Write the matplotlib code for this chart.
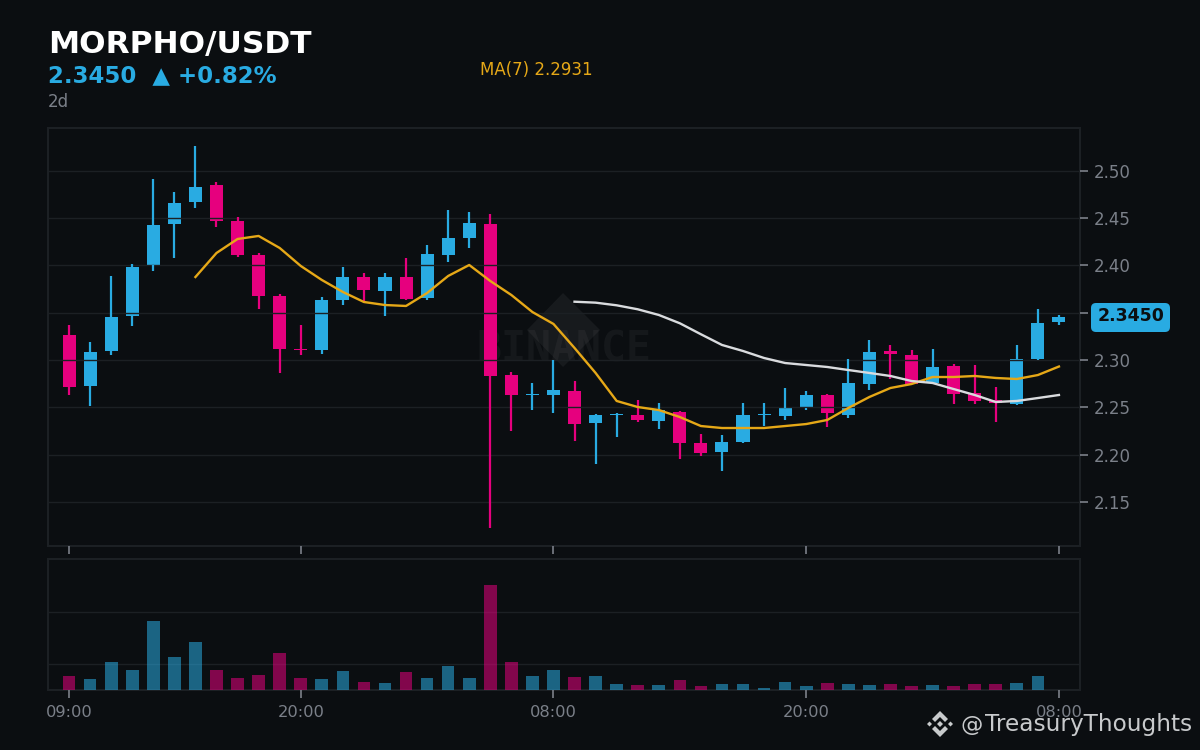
import matplotlib
matplotlib.use('Agg')
import matplotlib.pyplot as plt
from matplotlib.patches import Polygon, FancyBboxPatch

# hourly candles
opens = [2.3264, 2.2725, 2.3095, 2.3465, 2.4004, 2.4438, 2.467, 2.485, 2.447, 2.411, 2.3677, 2.3116,
         2.3106, 2.3634, 2.3877, 2.373, 2.3877, 2.3655, 2.411, 2.429, 2.4438, 2.2841, 2.263, 2.263,
         2.2672, 2.2334, 2.2415, 2.2419, 2.2355, 2.245, 2.2123, 2.2027, 2.2133, 2.2415, 2.2408, 2.2493,
         2.263, 2.2419, 2.2746, 2.3095, 2.3053, 2.2757, 2.2937, 2.2651, 2.2577, 2.2535, 2.3011, 2.3402]
closes = [2.2715, 2.3085, 2.3455, 2.398, 2.4427, 2.466, 2.4829, 2.447, 2.411, 2.3677, 2.3116, 2.3105,
          2.3634, 2.3877, 2.374, 2.3877, 2.3645, 2.412, 2.429, 2.4448, 2.283, 2.263, 2.264, 2.2683,
          2.2323, 2.2419, 2.2425, 2.2366, 2.2471, 2.2123, 2.2017, 2.2133, 2.2419, 2.2425, 2.2493, 2.263,
          2.244, 2.2757, 2.3085, 2.3063, 2.2746, 2.2926, 2.2641, 2.2567, 2.2545, 2.3011, 2.3391, 2.345]
highs = [2.337, 2.319, 2.389, 2.4015, 2.491, 2.4776, 2.5262, 2.488, 2.451, 2.413, 2.37, 2.337,
         2.3666, 2.398, 2.392, 2.392, 2.4078, 2.4216, 2.4586, 2.4564, 2.4543, 2.287, 2.2757, 2.3,
         2.2778, 2.243, 2.244, 2.2577, 2.2545, 2.246, 2.2218, 2.2207, 2.2545, 2.2545, 2.2704, 2.2672,
         2.264, 2.301, 2.3211, 2.3159, 2.3106, 2.3116, 2.2958, 2.2947, 2.2715, 2.3159, 2.3539, 2.3476]
lows = [2.263, 2.251, 2.305, 2.336, 2.394, 2.408, 2.4607, 2.4406, 2.409, 2.354, 2.286, 2.305,
        2.306, 2.358, 2.361, 2.3465, 2.3634, 2.3634, 2.4036, 2.4184, 2.1224, 2.225, 2.2471, 2.244,
        2.2144, 2.19, 2.2186, 2.2345, 2.227, 2.1953, 2.1985, 2.1827, 2.2123, 2.2302, 2.2366, 2.2471,
        2.2292, 2.2387, 2.2683, 2.28, 2.2746, 2.2757, 2.2535, 2.2535, 2.2345, 2.2524, 2.3, 2.337]
volumes = [27, 21, 54, 38, 133, 63, 92, 38, 23, 29, 71, 23,
           21, 37, 15, 13, 35, 23, 46, 23, 202, 54, 27, 38,
           25, 27, 12, 10, 10, 19, 8, 12, 12, 4, 15, 8,
           13, 12, 10, 12, 8, 10, 8, 12, 12, 13, 27, 0]
ma7 = [2.3877, 2.4131, 2.4279, 2.4311, 2.4184, 2.3994, 2.3846, 2.3719, 2.3613, 2.3581, 2.3571,
       2.3708, 2.3888, 2.4004, 2.3835, 2.3687, 2.3507, 2.3381, 2.3127, 2.2863, 2.2567, 2.2503,
       2.2471, 2.2397, 2.2302, 2.2281, 2.2281, 2.2281, 2.2302, 2.2323, 2.2366, 2.2493, 2.2609,
       2.2704, 2.2746, 2.282, 2.282, 2.2831, 2.281, 2.2799, 2.2841, 2.2931]
ma25 = [2.3616, 2.3606, 2.3578, 2.3536, 2.3476, 2.3388, 2.3272, 2.3159, 2.3095, 2.3021, 2.2968,
        2.2947, 2.2926, 2.2894, 2.2863, 2.2831, 2.2778, 2.2757, 2.2693, 2.263, 2.2556, 2.2567,
        2.2598, 2.263]
price_ticks = [2.15, 2.20, 2.25, 2.30, 2.35, 2.40, 2.45, 2.50]
time_ticks = [0, 11, 23, 35, 47]
time_labels = ['09:00', '20:00', '08:00', '20:00', '08:00']

BG = '#0b0e11'
GRID = '#1c2024'
BLUE = '#29abe2'
PINK = '#e6007e'
GOLD = '#e6a817'
MUTED = '#7b8089'
FOOT = '#c8cacc'

fig = plt.figure(figsize=(12, 7.5), dpi=100, facecolor=BG)


def box(left, top, right, bottom):
    return [left / 1200, 1 - bottom / 750, (right - left) / 1200, (bottom - top) / 750]


def px(x, y):
    # picture pixels, y counted from the top
    return x / 1200, 1 - y / 750


def logo_part(points, cx=940, cy=724):
    fig.add_artist(Polygon([px(cx + p[0], cy + p[1]) for p in points], transform=fig.transFigure,
                           facecolor=FOOT, edgecolor='none'))


ax = fig.add_axes(box(48, 128, 1080, 546), facecolor=BG)
vax = fig.add_axes(box(48, 559, 1080, 690), facecolor=BG)

for a in (ax, vax):
    a.set_xlim(-1, 48)
    a.set_xticks(time_ticks)
    a.set_xticklabels(time_labels)
    for s in a.spines.values():
        s.set_color(GRID)
        s.set_linewidth(1.5)
    a.grid(axis='y', color=GRID, linewidth=1.0)
    a.set_axisbelow(False)

# candles, wicks only outside the body so the grid still crosses the bodies
for i in range(len(opens)):
    col = BLUE if closes[i] >= opens[i] else PINK
    bottom = min(opens[i], closes[i])
    top = max(opens[i], closes[i])
    ax.vlines(i, top, highs[i], color=col, linewidth=1.6, zorder=3)
    ax.vlines(i, lows[i], bottom, color=col, linewidth=1.6, zorder=3)
    ax.bar(i, top - bottom, bottom=bottom, width=0.62, color=col, zorder=1)
    vax.bar(i, volumes[i], width=0.6, color=col, alpha=0.55, zorder=3)

ax.plot(range(6, 48), ma7, color=GOLD, linewidth=1.7, zorder=4)
ax.plot(range(24, 48), ma25, color='#d9dbde', linewidth=1.7, zorder=4)

ax.set_ylim(2.1034, 2.5452)
ax.yaxis.tick_right()
ax.set_yticks(price_ticks)
ax.set_yticklabels(['%.2f' % t for t in price_ticks])
ax.tick_params(axis='y', colors=MUTED, labelsize=12, length=6, width=1.2, pad=4)
# the labels of this axis end up under the volume panel, only a sliver shows
ax.tick_params(axis='x', colors=MUTED, labelsize=11.7, length=6, width=1.2, pad=5)

vax.set_ylim(0, 252)
vax.set_yticks([50, 150])
vax.tick_params(axis='y', length=0, labelleft=False)
vax.tick_params(axis='x', colors=MUTED, labelsize=11.7, length=6, width=1.2, pad=5)

# watermark
ax.add_patch(Polygon([px(563, 293), px(600, 330), px(563, 367), px(527, 330)], transform=fig.transFigure,
                     facecolor='white', edgecolor='none', alpha=0.05, zorder=0.5))
ax.text(*px(564, 349), 'BINANCE', transform=fig.transFigure, family='DejaVu Sans Mono', weight='bold',
        fontsize=30, color='white', alpha=0.045, ha='center', va='center', zorder=0.6)

# headings
fig.text(*px(48, 44), 'MORPHO/USDT', color='white', weight='bold', fontsize=22.5, va='center')
fig.text(*px(48, 76), '2.3450  ▲ +0.82%', color=BLUE, weight='bold', fontsize=16.5, va='center')
fig.text(*px(48, 102), '2d', color=MUTED, fontsize=12, va='center')
fig.text(*px(480, 70), 'MA(7) 2.2931', color=GOLD, fontsize=12, va='center')

# last price tag
fig.add_artist(FancyBboxPatch((1091, 750 - 332), 79, 29, boxstyle='round,pad=0,rounding_size=5', transform=None,
                              facecolor=BLUE, edgecolor='none'))
fig.text(*px(1131, 316), '2.3450', color=BG, weight='bold', fontsize=12.5, ha='center', va='center')

# footer mark
logo_part([(0, -13), (8, -5), (5, -2), (0, -7), (-5, -2), (-8, -5)])
logo_part([(0, 13), (8, 5), (5, 2), (0, 7), (-5, 2), (-8, 5)])
logo_part([(0, -3), (3, 0), (0, 3), (-3, 0)])
logo_part([(-10.5, -2.5), (-8, 0), (-10.5, 2.5), (-13, 0)])
logo_part([(10.5, -2.5), (13, 0), (10.5, 2.5), (8, 0)])
fig.text(*px(960, 725), '@', color=FOOT, fontsize=16, va='center')
fig.text(*px(985, 725), 'TreasuryThoughts', color=FOOT, fontsize=16.7, va='center')

fig.savefig('out.png', dpi=100, facecolor=BG)
